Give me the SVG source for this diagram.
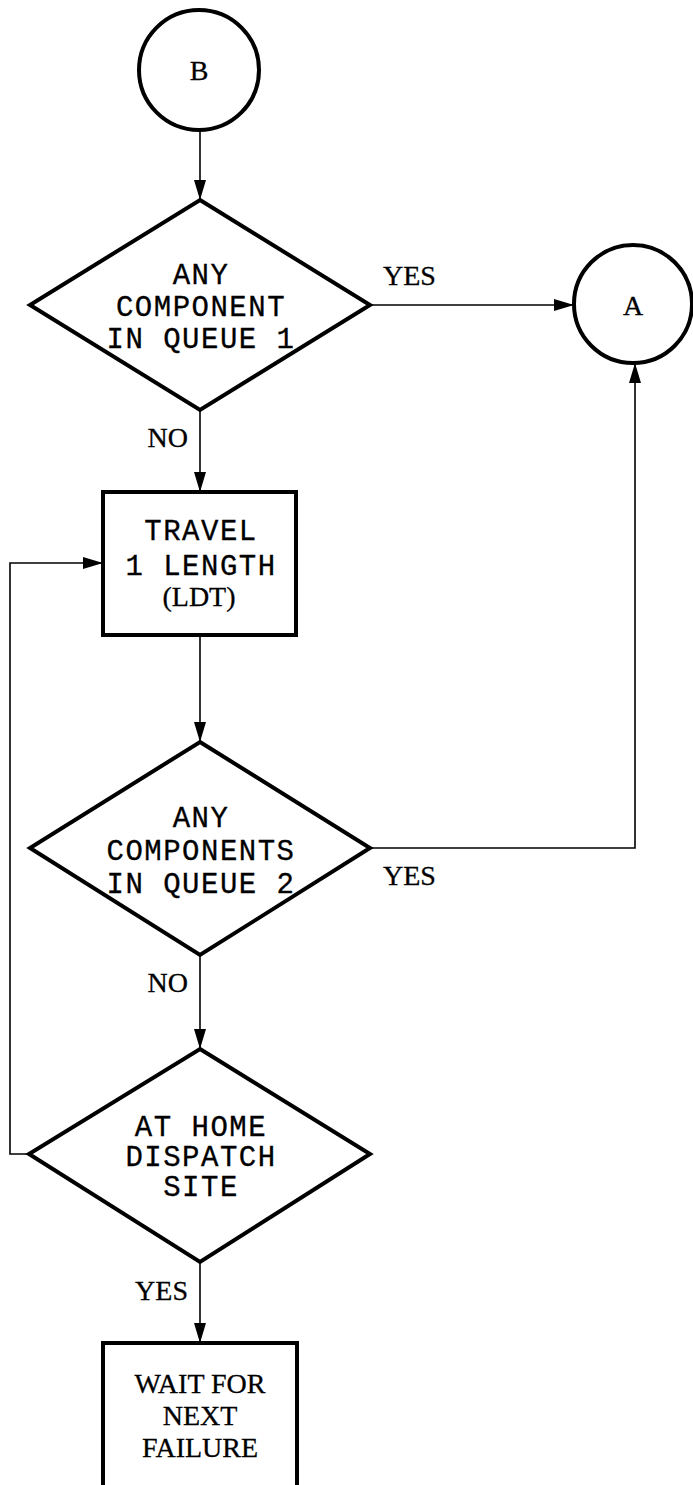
<svg xmlns="http://www.w3.org/2000/svg" width="693" height="1485" viewBox="0 0 693 1485">
<style>
.shape{fill:#fff;stroke:#000;stroke-width:4}
.conn{fill:none;stroke:#000;stroke-width:1.6}
.mono{font-family:"Liberation Mono","Courier New",monospace;font-size:29px;letter-spacing:1.5px;fill:#000;stroke:#000;stroke-width:0.3;text-anchor:middle}
.serif{font-family:"Liberation Serif","Times New Roman",serif;font-size:28px;fill:#000;stroke:#000;stroke-width:0.3;text-anchor:middle}
.lbl{font-family:"Liberation Serif","Times New Roman",serif;font-size:28px;fill:#000;stroke:#000;stroke-width:0.3}
</style>
<defs>
<marker id="arr" markerWidth="20" markerHeight="12" refX="20" refY="6" orient="auto" markerUnits="userSpaceOnUse">
<path d="M0,0 L20,6 L0,12 Z" fill="#000"/>
</marker>
</defs>
<rect width="693" height="1485" fill="#fff"/>
<g id="connectors">
<line class="conn" x1="200" y1="130" x2="200" y2="200" marker-end="url(#arr)"/>
<line class="conn" x1="370" y1="305" x2="574" y2="305" marker-end="url(#arr)"/>
<line class="conn" x1="200" y1="410" x2="200" y2="492" marker-end="url(#arr)"/>
<line class="conn" x1="200" y1="635" x2="200" y2="742" marker-end="url(#arr)"/>
<polyline class="conn" points="370,848 635,848 635,363" marker-end="url(#arr)"/>
<line class="conn" x1="200" y1="955" x2="200" y2="1049" marker-end="url(#arr)"/>
<polyline class="conn" points="29,1154 10,1154 10,563 103,563" marker-end="url(#arr)"/>
<line class="conn" x1="200" y1="1262" x2="200" y2="1343" marker-end="url(#arr)"/>
<text class="lbl" x="383" y="285">YES</text>
<text class="lbl" x="188" y="447" text-anchor="end">NO</text>
<text class="lbl" x="383" y="885">YES</text>
<text class="lbl" x="188" y="992" text-anchor="end">NO</text>
<text class="lbl" x="188" y="1300" text-anchor="end">YES</text>
</g>
<g id="nodeB">
<circle class="shape" cx="199" cy="70" r="60"/>
<text class="serif" x="199" y="80">B</text>
</g>
<g id="nodeA">
<circle class="shape" cx="633" cy="304" r="59"/>
<text class="serif" x="633" y="315">A</text>
</g>
<g id="decision1">
<polygon class="shape" points="200,200 370,305 200,410 30,305"/>
<text class="mono" x="201" y="284">ANY</text>
<text class="mono" x="201" y="316">COMPONENT</text>
<text class="mono" x="201" y="348">IN QUEUE 1</text>
</g>
<g id="travel">
<rect class="shape" x="103" y="492" width="193" height="143"/>
<text class="mono" x="201" y="540">TRAVEL</text>
<text class="mono" x="201" y="575">1 LENGTH</text>
<text class="serif" x="199" y="606">(LDT)</text>
</g>
<g id="decision2">
<polygon class="shape" points="200,742 370,848 200,955 30,848"/>
<text class="mono" x="201" y="827">ANY</text>
<text class="mono" x="201" y="860">COMPONENTS</text>
<text class="mono" x="201" y="893">IN QUEUE 2</text>
</g>
<g id="decision3">
<polygon class="shape" points="200,1049 370,1154 200,1262 29,1154"/>
<text class="mono" x="201" y="1136">AT HOME</text>
<text class="mono" x="201" y="1166">DISPATCH</text>
<text class="mono" x="201" y="1196">SITE</text>
</g>
<g id="wait">
<rect class="shape" x="103" y="1343" width="194" height="160"/>
<text class="serif" x="200" y="1393">WAIT FOR</text>
<text class="serif" x="200" y="1425">NEXT</text>
<text class="serif" x="200" y="1457">FAILURE</text>
</g>
</svg>
